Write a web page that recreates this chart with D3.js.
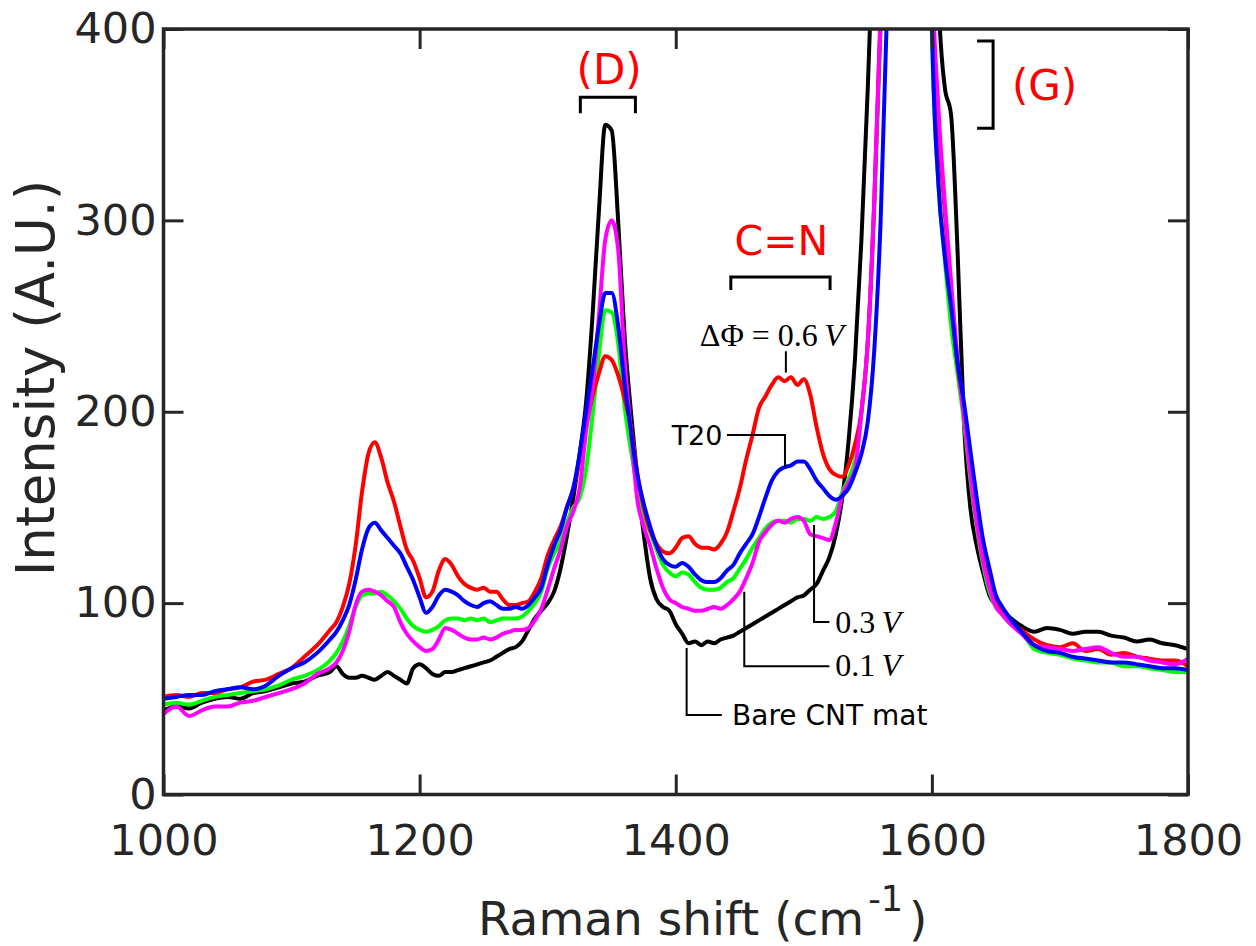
<!DOCTYPE html>
<html>
<head>
<meta charset="utf-8">
<title>Raman spectra</title>
<script src="https://cdn.jsdelivr.net/npm/d3@7"></script>
<style>
  html, body { margin: 0; padding: 0; background: #ffffff; }
  svg { display: block; }
</style>
</head>
<body>
<svg id="chart" width="1256" height="946"></svg>
<script>
// Raman shift sampling grid (cm^-1)
const shift = [
  1000,1010,1020,1030,1040,1050,1060,1070,1080,1090,1100,1110,1120,1130,
  1135,1140,1145,1150,1155,1160,1165,1170,1175,1180,1185,1190,1195,
  1200,1205,1210,1215,1220,1225,1230,1235,1240,1245,1250,1255,1260,1265,1270,1275,1280,1285,1290,1295,
  1300,1305,1310,1315,1320,1325,1330,1335,1340,1345,1350,1355,1360,1365,1370,1375,1380,1385,1390,1395,
  1400,1405,1410,1415,1420,1425,1430,1435,1440,1445,1450,1455,1460,1465,1470,1475,1480,1485,1490,1495,
  1500,1505,1510,1515,1520,1525,1530,1535,1540,1545,1550,1555,1560,1565,1570,1575,1580,1585,1590,1595,
  1600,1605,1610,1615,1620,1625,1630,1635,1640,1645,1650,1655,1660,
  1670,1680,1690,1700,1710,1720,1730,1740,1750,1760,1770,1780,1790,1800
];

// Bare CNT mat (black)
const bareCNT = [
  44,46,45,48,50,51,50,53,54,56,58,59,62,64,
  67,63,61,61,62,61,60,62,64,62,60,58,66,
  68,66,63,62,64,64,65,66,67,68,69,70,72,74,76,77,80,86,92,96,
  100,106,118,135,155,178,205,250,305,350,347,300,240,200,165,136,113,102,98,96,
  89,84,79,80,78,80,79,81,82,83,85,87,89,91,93,95,97,99,101,103,
  104,107,110,117,124,136,155,185,228,290,370,465,580,700,820,920,980,1000,980,880,
  620,420,370,355,285,195,150,130,116,104,99,96,93,
  88,85,87,86,84,85,85,83,82,80,81,79,78,76
];

// 0.1 V (magenta)
const dphi01 = [
  42,46,41,44,46,46,48,49,51,53,55,58,63,66,
  69,75,85,99,106,107,106,104,101,98,90,84,80,
  77,75,76,81,87,86,84,82,81,81,82,81,82,84,85,86,86,87,91,97,
  107,118,128,140,148,160,190,212,250,290,300,285,228,190,154,140,130,118,108,102,
  100,98,97,96,96,97,98,97,99,102,106,113,121,132,137,141,143,142,144,145,
  143,136,135,134,133,142,156,163,170,200,237,310,405,540,690,820,900,920,860,720,
  440,360,310,268,228,198,168,142,122,108,98,94,90,
  84,78,77,76,75,76,77,74,72,72,70,69,68,71
];

// 0.3 V (green)
const dphi03 = [
  47,48,47,49,51,52,53,54,55,57,60,62,65,70,
  74,80,88,98,104,105,105,106,104,101,97,92,88,
  86,85,86,88,91,92,92,91,92,91,92,90,91,92,92,92,93,96,100,106,
  118,126,132,142,150,155,170,198,230,253,252,236,203,180,160,145,137,128,120,116,
  114,116,115,111,108,107,107,108,111,113,118,123,129,134,139,142,143,143,142,144,
  144,143,145,144,145,148,158,165,175,200,237,305,400,520,660,780,860,880,820,650,
  400,320,280,245,220,195,165,140,120,106,98,94,90,
  85,76,74,73,71,70,69,69,67,67,66,65,64,64
];

// T20 (blue)
const t20 = [
  50,51,52,52,54,55,56,55,57,62,66,69,74,81,
  85,91,99,112,128,139,142,138,134,130,126,119,112,
  103,95,98,104,107,106,104,101,99,98,100,101,99,97,97,98,97,99,103,108,
  120,130,138,150,160,178,200,222,245,262,262,245,215,190,167,152,140,130,123,120,
  119,121,119,115,112,111,111,113,117,120,126,131,136,145,155,164,169,171,172,174,
  174,170,164,160,156,154,156,160,168,178,195,232,300,410,560,720,840,880,840,660,
  405,320,282,255,226,205,180,155,133,118,104,98,93,
  85,78,75,74,72,71,70,69,69,68,67,66,66,65
];

// 0.6 V (red)
const dphi06 = [
  51,52,51,53,53,55,56,59,60,63,66,72,78,86,
  90,98,110,130,158,178,184,176,163,153,140,128,122,
  113,103,106,117,123,120,114,110,108,107,108,106,106,102,99,99,100,101,106,113,
  125,133,140,150,160,175,193,208,220,229,227,219,207,192,168,150,138,131,127,126,
  129,134,135,131,129,129,128,131,137,148,160,175,188,202,208,214,218,216,218,214,
  217,209,192,178,170,167,166,172,183,200,237,310,410,540,680,820,900,920,860,700,
  420,350,305,262,225,200,170,145,125,110,100,95,91,
  86,81,78,77,79,75,76,73,74,72,71,70,70,67
];

const xTicks = [1000, 1200, 1400, 1600, 1800];
const yTicks = [0, 100, 200, 300, 400];

// Draw order: later entries sit on top
const series = [
  { name: "Bare CNT mat", values: bareCNT, color: "#000000" },
  { name: "0.3 V",        values: dphi03,  color: "#00ff00" },
  { name: "0.6 V",        values: dphi06,  color: "#ff0000" },
  { name: "0.1 V",        values: dphi01,  color: "#ff00ff" },
  { name: "T20",          values: t20,     color: "#0000ff" }
];

const svg = d3.select("#chart");
const frame = { left: 163.5, right: 1188, top: 29, bottom: 794.5 };
const axisColor = "#262626";
const sans = "'DejaVu Sans', Verdana, sans-serif";
const serif = "'Liberation Serif', 'Times New Roman', serif";

const x = d3.scaleLinear().domain([1000, 1800]).range([frame.left, frame.right]);
const y = d3.scaleLinear().domain([0, 400]).range([frame.bottom, frame.top]);

svg.append("defs").append("clipPath").attr("id", "plot-clip")
  .append("rect")
  .attr("x", frame.left).attr("y", frame.top)
  .attr("width", frame.right - frame.left)
  .attr("height", frame.bottom - frame.top);

// Spectra
const line = d3.line()
  .x((d, i) => x(shift[i]))
  .y(d => y(d))
  .curve(d3.curveMonotoneX);

const curves = svg.append("g").attr("clip-path", "url(#plot-clip)");
series.forEach(s => {
  curves.append("path")
    .attr("d", line(s.values))
    .attr("fill", "none")
    .attr("stroke", s.color)
    .attr("stroke-width", 4)
    .attr("stroke-linejoin", "round")
    .attr("stroke-linecap", "round");
});

// Axes: ticks point inward on all four sides
const tickLen = 20;
const fmt = d3.format("d");
function styleAxis(g, showLabels) {
  g.select(".domain").remove();
  g.selectAll(".tick line").attr("stroke", axisColor).attr("stroke-width", 3);
  g.selectAll(".tick text")
    .attr("fill", axisColor)
    .style("font-family", sans)
    .style("font-size", "43px");
  if (!showLabels) g.selectAll(".tick text").remove();
}

svg.append("g")
  .attr("transform", `translate(0,${frame.bottom})`)
  .call(d3.axisBottom(x).tickValues(xTicks).tickFormat(fmt)
    .tickSizeInner(-tickLen).tickSizeOuter(0).tickPadding(30))
  .call(g => styleAxis(g, true));

svg.append("g")
  .attr("transform", `translate(0,${frame.top})`)
  .call(d3.axisTop(x).tickValues(xTicks).tickSizeInner(-tickLen).tickSizeOuter(0))
  .call(g => styleAxis(g, false));

svg.append("g")
  .attr("transform", `translate(${frame.left},0)`)
  .call(d3.axisLeft(y).tickValues(yTicks).tickFormat(fmt)
    .tickSizeInner(-tickLen).tickSizeOuter(0).tickPadding(7))
  .call(g => styleAxis(g, true));

svg.append("g")
  .attr("transform", `translate(${frame.right},0)`)
  .call(d3.axisRight(y).tickValues(yTicks).tickSizeInner(-tickLen).tickSizeOuter(0))
  .call(g => styleAxis(g, false));

svg.append("rect")
  .attr("x", frame.left).attr("y", frame.top)
  .attr("width", frame.right - frame.left)
  .attr("height", frame.bottom - frame.top)
  .attr("fill", "none")
  .attr("stroke", axisColor)
  .attr("stroke-width", 3.5);

// Axis titles
const xTitle = svg.append("text")
  .attr("x", 478).attr("y", 935)
  .attr("fill", axisColor)
  .style("font-family", sans)
  .style("font-size", "47px");
xTitle.append("tspan").text("Raman shift (cm");
xTitle.append("tspan").attr("dy", -24).attr("dx", 4).style("font-size", "35px").text("-1");
xTitle.append("tspan").attr("dy", 24).attr("dx", 6).text(")");

svg.append("text")
  .attr("transform", `translate(54,378) rotate(-90)`)
  .attr("text-anchor", "middle")
  .attr("fill", axisColor)
  .style("font-family", sans)
  .style("font-size", "53px")
  .text("Intensity (A.U.)");

// Band annotations
const ann = svg.append("g");

function path(points, width) {
  ann.append("path")
    .attr("d", d3.line()(points.map(p => [x(p[0]), y(p[1])])))
    .attr("fill", "none")
    .attr("stroke", "#000")
    .attr("stroke-width", width)
    .attr("stroke-linejoin", "miter");
}
function label(sx, v, txt, opts) {
  return ann.append("text")
    .attr("x", x(sx)).attr("y", y(v))
    .attr("text-anchor", opts.anchor || "start")
    .attr("fill", opts.color || "#000")
    .style("font-family", opts.font || sans)
    .style("font-size", opts.size + "px")
    .text(txt);
}

// (D) band
path([[1325.5, 356], [1325.5, 364.3], [1368.5, 364.3], [1368.5, 356]], 3);
label(1348, 371.5, "(D)", { anchor: "middle", color: "#ff0000", size: 42 });

// (G) band
path([[1635.3, 393.7], [1647.8, 393.7], [1647.8, 348.2], [1635.3, 348.2]], 3);
label(1662.5, 363, "(G)", { color: "#ff0000", size: 42 });

// C=N band
path([[1443, 263.6], [1443, 270.4], [1520.5, 270.4], [1520.5, 263.6]], 3);
label(1482.5, 282, "C=N", { anchor: "middle", color: "#ff0000", size: 41 });

// Potential labels
const dphi = label(1475, 234.3, "", { anchor: "middle", font: serif, size: 32 });
dphi.append("tspan").text("\u0394\u03A6 = 0.6\u2009");
dphi.append("tspan").style("font-style", "italic").text("V");
path([[1486, 231.6], [1486, 220.5]], 2);

label(1436.5, 182.6, "T20", { anchor: "end", size: 27 });
path([[1440, 187.8], [1485.3, 187.8], [1485.3, 171]], 2);

const v03 = label(1524.5, 84.4, "", { font: serif, size: 32 });
v03.append("tspan").text("0.3\u2009");
v03.append("tspan").style("font-style", "italic").text("V");
path([[1508, 140.8], [1508, 90.1], [1520, 90.1]], 2);

const v01 = label(1524.5, 61.9, "", { font: serif, size: 32 });
v01.append("tspan").text("0.1\u2009");
v01.append("tspan").style("font-style", "italic").text("V");
path([[1453.5, 105.9], [1453.5, 67], [1520, 67]], 2);

label(1444, 36.3, "Bare CNT mat", { size: 28 });
path([[1408.5, 76.5], [1408.5, 41.5], [1436, 41.5]], 2);
</script>
</body>
</html>
